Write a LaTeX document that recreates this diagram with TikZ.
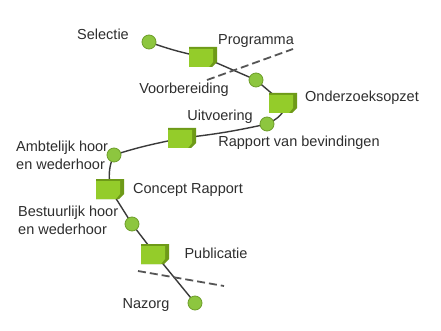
\documentclass[tikz,border=0pt]{standalone}
\usepackage{fontspec}
\setmainfont{Liberation Sans}
\pgfdeclarelayer{bg}
\pgfsetlayers{bg,main}
\definecolor{txt}{HTML}{2E2E2E}
\definecolor{dotgreen}{HTML}{8DC63F}
\definecolor{dotedge}{HTML}{6E9E2A}
\definecolor{doclight}{HTML}{94CC2A}
\definecolor{docdark}{HTML}{6E9A18}
\definecolor{linegray}{HTML}{3A3A3A}
\definecolor{cutgray}{HTML}{555555}
\begin{document}
\begin{tikzpicture}[x=1pt,y=-1pt,
  lbl/.style={text=txt, font=\fontsize{14.5}{17.5}\selectfont, inner sep=0pt},
  dot/.style={circle, fill=dotgreen, draw=dotedge, line width=0.8pt, minimum size=14pt, inner sep=0pt},
  docbox/.style={minimum width=28pt, minimum height=20pt, inner sep=0pt, path picture={
    \fill[docdark] (path picture bounding box.north west) -- (path picture bounding box.north east)
      -- ([yshift=5pt]path picture bounding box.south east) -- ([xshift=-5pt]path picture bounding box.south east)
      -- (path picture bounding box.south west) -- cycle;
    \fill[doclight] ([yshift=-2pt]path picture bounding box.north west) -- ([xshift=-4pt,yshift=-2pt]path picture bounding box.north east)
      -- ([xshift=-4pt,yshift=5pt]path picture bounding box.south east) -- ([xshift=-8pt]path picture bounding box.south east)
      -- (path picture bounding box.south west) -- cycle;
  }},
  link/.style={draw=linegray, line width=1.4pt},
  cut/.style={draw=cutgray, line width=1.8pt, dash pattern=on 8pt off 4pt}]
\useasboundingbox (0,0) rectangle (441,331);

% milestones
\node[dot] (c1) at (149,42) {};
\node[docbox] (d1) at (203,57) {};
\node[dot] (c2) at (256,80) {};
\node[docbox] (d2) at (283,103) {};
\node[dot] (c3) at (267,124) {};
\node[docbox] (d3) at (182,138) {};
\node[dot] (c4) at (114,155) {};
\node[docbox] (d4) at (110,189) {};
\node[dot] (c5) at (132,224) {};
\node[docbox] (d5) at (155,254) {};
\node[dot] (c6) at (195,303) {};

% phase cuts
\coordinate (k1a) at (207,80);
\coordinate (k1b) at (293,49);
\coordinate (k2a) at (138,271);
\coordinate (k2b) at (224,286);

\begin{pgfonlayer}{bg}
\fill[white] (0,0) rectangle (441,331);
\draw[link] (c1.center) to[bend right=4] (d1.center) -- (c2.center) -- (d2.center)
  to[out=-65,in=25] (c3.center) to[bend left=3] (d3.center)
  to[out=192,in=18] (c4.center) to[out=-115,in=95] (d4.center)
  -- (c5.center) -- (d5.center) -- (c6.center);
\end{pgfonlayer}
\draw[cut] (k1a) -- (k1b);
\draw[cut] (k2a) -- (k2b);

% labels
\node[lbl] (t1) at (103,34) {Selectie};
\node[lbl] (t2) at (256,41) {Programma};
\node[lbl] (t3) at (184,90) {Voorbereiding};
\node[lbl] (t4) at (362,98) {Onderzoeksopzet};
\node[lbl] (t5) at (220,117) {Uitvoering};
\node[lbl] (t6) at (299,143) {Rapport van bevindingen};
\node[lbl, align=left, anchor=west] (t7) at (16,155.5) {Ambtelijk hoor\\en wederhoor};
\node[lbl] (t8) at (188,190) {Concept Rapport};
\node[lbl, align=left, anchor=west] (t9) at (18,220.5) {Bestuurlijk hoor\\en wederhoor};
\node[lbl] (t10) at (216,253) {Publicatie};
\node[lbl] (t11) at (146,305) {Nazorg};
\end{tikzpicture}
\end{document}
